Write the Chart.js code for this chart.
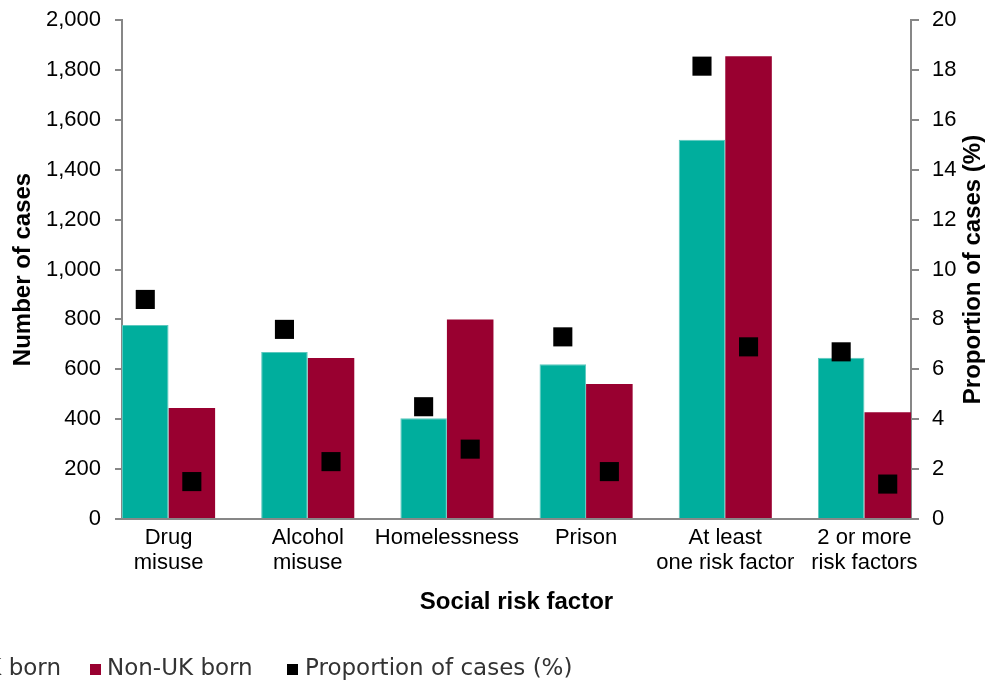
<!DOCTYPE html>
<html>
<head>
<meta charset="utf-8">
<script src="https://cdn.jsdelivr.net/npm/chart.js@4"></script>
<style>
  html, body { margin: 0; padding: 0; background: #fff; }
  #wrap { width: 987px; height: 684px; }
</style>
</head>
<body>
<div id="wrap"><canvas id="riskChart" width="987" height="684"></canvas></div>
<script>
// ===============================
// Data
// ===============================
const categories = [
  ['Drug', 'misuse'],
  ['Alcohol', 'misuse'],
  'Homelessness',
  'Prison',
  ['At least', 'one risk factor'],
  ['2 or more', 'risk factors']
];
const ukBorn = [778, 669, 404, 620, 1520, 646];
const nonUkBorn = [445, 645, 800, 541, 1855, 428];
const propUkBorn = [8.8, 7.6, 4.5, 7.3, 18.15, 6.7];
const propNonUkBorn = [1.5, 2.3, 2.8, 1.9, 6.9, 1.4];

const casesMax = 2000;
const casesStep = 200;
const propMax = 20;
const propStep = 2;

const TEAL = '#00AE9D';
const WINE = '#990030';
const AXIS = '#878787';
const GROUP = 0.669; // share of each category taken by its pair of bars
const tickFont = { family: "'Liberation Sans', Arial, sans-serif", size: 22 };
const titleFont = { family: "'Liberation Sans', Arial, sans-serif", size: 24, weight: 'bold' };

// category index -> {x, y} points so the x axis can butt the bars against the y axes (Excel style)
const toPoints = arr => arr.map((v, i) => ({ x: i, y: v }));

// put each proportion marker over the centre of its bar
const alignMarkers = {
  id: 'alignMarkers',
  afterDatasetsUpdate(chart) {
    chart.data.datasets.forEach((ds, i) => {
      if (ds.barRef === undefined) return;
      const bars = chart.getDatasetMeta(ds.barRef).data;
      chart.getDatasetMeta(i).data.forEach((pt, j) => {
        if (bars[j]) pt.x = bars[j].x;
      });
    });
  }
};

// right axis title (reads bottom to top) and the clipped legend row
const extras = {
  id: 'extras',
  afterDraw(chart) {
    const ctx = chart.ctx;
    const area = chart.chartArea;
    ctx.save();
    ctx.translate(973, (area.top + area.bottom) / 2);
    ctx.rotate(-Math.PI / 2);
    ctx.font = 'bold 24px "Liberation Sans", Arial, sans-serif';
    ctx.fillStyle = '#000';
    ctx.textAlign = 'center';
    ctx.textBaseline = 'middle';
    ctx.fillText('Proportion of cases (%)', 0, 0);
    ctx.restore();

    // legend
    const y = 669;
    ctx.save();
    ctx.font = '23px "DejaVu Sans", sans-serif';
    ctx.textBaseline = 'middle';
    const items = [
      { label: chart.data.datasets[0].label, color: TEAL, sq: 0, tx: 61, align: 'right' },
      { label: chart.data.datasets[1].label, color: WINE, sq: 90, tx: 107, align: 'left' },
      { label: 'Proportion of cases (%)', color: '#000', sq: 287, tx: 305, align: 'left' }
    ];
    items.forEach(it => {
      ctx.textAlign = it.align;
      ctx.fillStyle = '#333';
      ctx.fillText(it.label, it.tx, y);
      let sx = it.sq;
      if (it.align === 'right') sx = it.tx - ctx.measureText(it.label).width - 17;
      ctx.fillStyle = it.color;
      ctx.fillRect(sx, y - 5, 11, 11);
    });
    ctx.restore();
  }
};

const markerStyle = {
  type: 'line',
  yAxisID: 'y2',
  showLine: false,
  pointStyle: 'rect',
  pointRadius: 13.5,
  pointHoverRadius: 13.5,
  pointBackgroundColor: '#000',
  pointBorderWidth: 0,
  order: 0
};

new Chart(document.getElementById('riskChart'), {
  type: 'bar',
  data: {
    datasets: [
      {
        label: 'UK born',
        data: toPoints(ukBorn),
        backgroundColor: TEAL,
        borderColor: '#5CC8BE',
        borderWidth: { top: 1, left: 1, right: 1, bottom: 0 },
        yAxisID: 'y',
        order: 2
      },
      {
        label: 'Non-UK born',
        data: toPoints(nonUkBorn),
        backgroundColor: WINE,
        yAxisID: 'y',
        order: 2
      },
      Object.assign({ label: 'Proportion UK born', data: toPoints(propUkBorn), barRef: 0 }, markerStyle),
      Object.assign({ label: 'Proportion non-UK born', data: toPoints(propNonUkBorn), barRef: 1 }, markerStyle)
    ]
  },
  options: {
    responsive: false,
    animation: false,
    layout: { autoPadding: false, padding: { top: 20, left: 0, right: 0, bottom: 63 } },
    plugins: {
      legend: { display: false },
      tooltip: { enabled: false }
    },
    datasets: {
      bar: { categoryPercentage: GROUP, barPercentage: 1.0 }
    },
    scales: {
      x: {
        type: 'linear',
        offset: false,
        min: -GROUP / 2,
        max: categories.length - 1 + GROUP / 2,
        grid: { display: false, drawTicks: false, offset: false },
        border: { display: true, color: AXIS, width: 2 },
        afterBuildTicks(scale) {
          scale.ticks = categories.map((c, i) => ({ value: i }));
        },
        ticks: {
          color: '#000',
          font: Object.assign({ lineHeight: 1.15 }, tickFont),
          padding: 6,
          maxRotation: 0,
          autoSkip: false,
          callback: v => categories[v]
        },
        title: {
          display: true,
          text: 'Social risk factor',
          color: '#000',
          font: titleFont,
          padding: { top: 0, bottom: 4 }
        },
        afterFit(scale) { scale.height = 102; }
      },
      y: {
        position: 'left',
        min: 0,
        max: casesMax,
        grid: { drawOnChartArea: false, drawTicks: true, tickLength: 7, color: AXIS, lineWidth: 2 },
        border: { display: true, color: AXIS, width: 2 },
        ticks: {
          stepSize: casesStep,
          color: '#000',
          font: tickFont,
          padding: 14,
          callback: v => v.toLocaleString('en-US')
        },
        title: {
          display: true,
          text: 'Number of cases',
          color: '#000',
          font: titleFont,
          padding: { top: 9, bottom: 0 }
        },
        afterFit(scale) {
          scale.width = 122;
          scale.paddingTop = 0;
          scale.paddingBottom = 0;
        }
      },
      y2: {
        position: 'right',
        min: 0,
        max: propMax,
        grid: { drawOnChartArea: false, drawTicks: true, tickLength: 8, color: AXIS, lineWidth: 2 },
        border: { display: true, color: AXIS, width: 2 },
        ticks: {
          stepSize: propStep,
          color: '#000',
          font: tickFont,
          padding: 13
        },
        afterFit(scale) {
          scale.width = 76;
          scale.paddingTop = 0;
          scale.paddingBottom = 0;
        }
      }
    }
  },
  plugins: [alignMarkers, extras]
});
</script>
</body>
</html>
